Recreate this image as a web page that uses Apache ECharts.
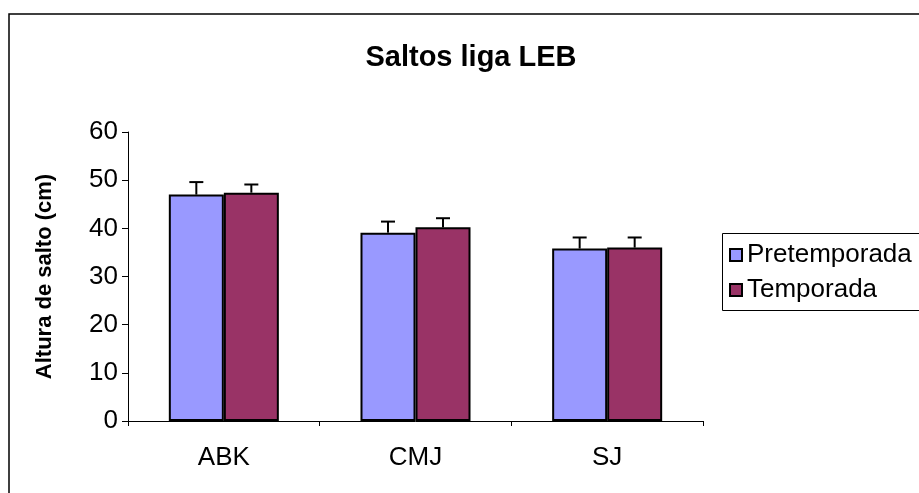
<!DOCTYPE html>
<html>
<head>
<meta charset="utf-8">
<script src="https://cdn.jsdelivr.net/npm/echarts@6/dist/echarts.min.js"></script>
<style>
html,body{margin:0;padding:0;background:#fff;}
#chart{width:919px;height:493px;}
</style>
</head>
<body>
<div id="chart"></div>
<script>
var categories = ['ABK', 'CMJ', 'SJ'];
var seriesNames = ['Pretemporada', 'Temporada'];
var pretemporada = [47.0, 39.1, 35.8];
var temporada = [47.4, 40.2, 36.0];
var pretemporadaErr = [2.6, 2.3, 2.3];
var temporadaErr = [1.7, 1.9, 2.1];
var yTicks = [0, 10, 20, 30, 40, 50, 60];

var chart = echarts.init(document.getElementById('chart'));
var font = 'Liberation Sans, Arial, sans-serif';
var catGap = 0.426;

function errorSeries(values, errs, side) {
  var data = values.map(function (v, i) { return [i, v, errs[i]]; });
  return {
    type: 'custom',
    silent: true,
    z: 5,
    data: data,
    renderItem: function (params, api) {
      var idx = api.value(0);
      var v = api.value(1);
      var e = api.value(2);
      var catW = api.size([1, 0])[0];
      var bw = catW * (1 - catGap) / 2;
      var base = api.coord([idx, v]);
      var top = api.coord([idx, v + e]);
      var x = base[0] + side * bw / 2;
      var cap = 7;
      return {
        type: 'group',
        children: [
          { type: 'line', shape: { x1: x, y1: base[1], x2: x, y2: top[1] }, style: { stroke: '#000', lineWidth: 2 } },
          { type: 'line', shape: { x1: x - cap, y1: top[1], x2: x + cap, y2: top[1] }, style: { stroke: '#000', lineWidth: 2 } }
        ]
      };
    }
  };
}

var option = {
  animation: false,
  backgroundColor: '#fff',
  title: {
    text: 'Saltos liga LEB',
    left: 466,
    textAlign: 'center',
    top: 38,
    textStyle: { fontFamily: font, fontSize: 29, fontWeight: 'bold', color: '#000' }
  },
  graphic: [
    { type: 'rect', shape: { x: 9, y: 14, width: 1000, height: 600 }, style: { fill: 'none', stroke: '#000', lineWidth: 1.5 }, z: -10 },
    { type: 'rect', shape: { x: 722.5, y: 233.5, width: 300, height: 77 }, style: { fill: 'none', stroke: '#000', lineWidth: 1 }, z: -5 }
  ],
  legend: {
    data: seriesNames,
    orient: 'vertical',
    left: 729,
    top: 242,
    padding: 0,
    itemWidth: 12,
    itemHeight: 12,
    itemGap: 9,
    icon: 'rect',
    textStyle: { fontFamily: font, fontSize: 26, color: '#000' }
  },
  grid: { left: 128, right: 216, top: 132, bottom: 72, containLabel: false },
  xAxis: {
    type: 'category',
    data: categories,
    axisLine: { lineStyle: { color: '#000', width: 1 } },
    axisTick: { show: true, length: 5, lineStyle: { color: '#000' } },
    axisLabel: { fontFamily: font, fontSize: 26, color: '#000', margin: 24 }
  },
  yAxis: {
    type: 'value',
    min: yTicks[0],
    max: yTicks[yTicks.length - 1],
    interval: 10,
    name: 'Altura de salto (cm)',
    nameLocation: 'middle',
    nameGap: 72,
    nameTextStyle: { fontFamily: font, fontSize: 22, fontWeight: 'bold', color: '#000' },
    axisLine: { show: true, lineStyle: { color: '#000', width: 1 } },
    axisTick: { show: true, length: 6, lineStyle: { color: '#000' } },
    splitLine: { show: false },
    axisLabel: { fontFamily: font, fontSize: 26, color: '#000', margin: 10 }
  },
  series: [
    {
      name: seriesNames[0], type: 'bar', data: pretemporada,
      barGap: '0%', barCategoryGap: (catGap * 100) + '%',
      itemStyle: { color: '#9999FF', borderColor: '#000', borderWidth: 2 }
    },
    {
      name: seriesNames[1], type: 'bar', data: temporada,
      itemStyle: { color: '#993366', borderColor: '#000', borderWidth: 2 }
    },
    errorSeries(pretemporada, pretemporadaErr, -1),
    errorSeries(temporada, temporadaErr, 1)
  ]
};
chart.setOption(option);
</script>
</body>
</html>
